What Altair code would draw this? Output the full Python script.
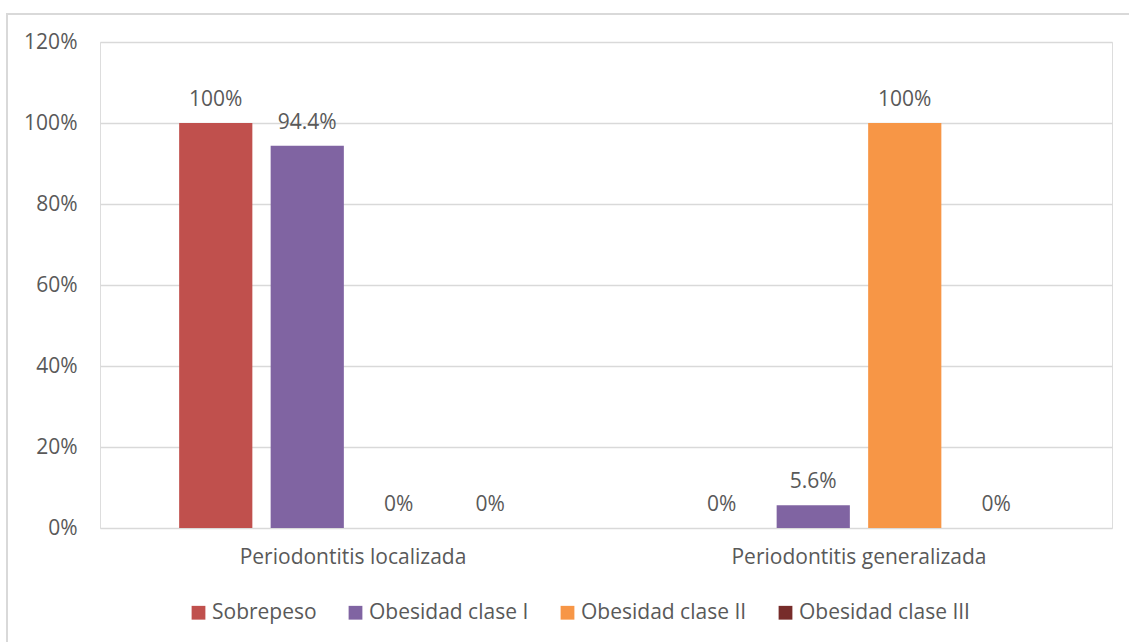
import altair as alt
import pandas as pd

categories = ["Periodontitis localizada", "Periodontitis generalizada"]
series = ["Sobrepeso", "Obesidad clase I", "Obesidad clase II", "Obesidad clase III"]
colors = ["#C0504D", "#8064A2", "#F79646", "#772C2A"]
values = {
    "Sobrepeso": [1.0, 0.0],
    "Obesidad clase I": [0.944, 0.056],
    "Obesidad clase II": [0.0, 1.0],
    "Obesidad clase III": [0.0, 0.0],
}
y_ticks = [0, 0.2, 0.4, 0.6, 0.8, 1.0, 1.2]

rows = []
for s in series:
    for c, v in zip(categories, values[s]):
        rows.append({"cat": c, "serie": s, "val": v})
df = pd.DataFrame(rows)

FONT = "Open Sans"
GRAY = "#595959"
FS = 21

x = alt.X("cat:N", sort=categories, title=None,
          scale=alt.Scale(paddingInner=0, paddingOuter=0),
          axis=alt.Axis(labelAngle=0, labelFontSize=FS, labelColor=GRAY, labelFont=FONT,
                        domain=False, ticks=False, labelPadding=18, labelLimit=600))
xo = alt.XOffset("serie:N", sort=series,
                 scale=alt.Scale(paddingInner=0.2, paddingOuter=0.865))
y = alt.Y("val:Q", title=None,
          scale=alt.Scale(domain=[0, 1.2], nice=False),
          axis=alt.Axis(values=y_ticks, format="%", labelFontSize=FS, labelColor=GRAY,
                        labelFont=FONT, domain=False, ticks=False, labelPadding=23,
                        gridColor="#D9D9D9", gridWidth=1.3))

bars = alt.Chart(df).mark_bar().encode(
    x=x, xOffset=xo, y=y,
    color=alt.Color("serie:N", sort=series,
                    scale=alt.Scale(domain=series, range=colors),
                    legend=alt.Legend(title=None, orient="none", direction="horizontal",
                                      legendX=88, legendY=560, symbolType="square",
                                      symbolSize=190, symbolStrokeWidth=0,
                                      labelFontSize=FS, labelColor=GRAY, labelFont=FONT,
                                      labelOffset=3, columnPadding=28, padding=0,
                                      labelLimit=400)),
)

labels = alt.Chart(df).mark_text(baseline="alphabetic", dy=-17, fontSize=FS,
                                 color=GRAY, font=FONT).encode(
    x=alt.X("cat:N", sort=categories), xOffset=alt.XOffset("serie:N", sort=series),
    y="val:Q",
    text=alt.Text("val:Q", format=".1~%"),
)

border = alt.Chart(df).mark_rect(fill=None, stroke="#D9D9D9", strokeWidth=1.3,
                                 clip=False).encode(
    x=alt.value(-93), x2=alt.value(1030), y=alt.value(-28), y2=alt.value(620)
)

chart = alt.layer(border, bars, labels).properties(
    width=1012, height=486,
    padding={"left": 100, "top": 42, "right": 17, "bottom": 114},
    autosize=alt.AutoSizeParams(type="none"),
).configure_view(stroke=None).configure(background="white")

chart.save("out.html", embed_options={"renderer": "svg", "actions": False})
